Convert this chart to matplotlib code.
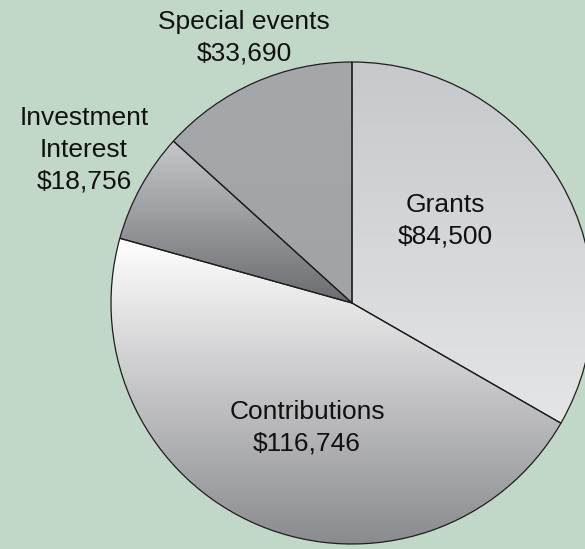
import matplotlib

matplotlib.use("Agg")

import matplotlib.pyplot as plt
import numpy as np
from matplotlib.colors import LinearSegmentedColormap

# data
categories = ["Grants", "Contributions", "Investment\nInterest", "Special events"]
amounts = [84500, 116746, 18756, 33690]

# vertical gradient per slice (top colour, bottom colour)
GRADIENTS = [
    ("#c7c8cb", "#e4e5e7"),
    ("#ffffff", "#8a8b8f"),
    ("#c6c7ca", "#6b6c70"),
    ("#a6a7ab", "#a2a3a7"),
]
# label centres in pixels (x from left, y from top)
LABEL_POS = [(445, 221), (307, 428), (84, 150), (244, 38)]

W, H = 585, 549
CX, CY, R = 352, 303, 241
BG = "#c1d7c7"

fig = plt.figure(figsize=(W / 100, H / 100), dpi=100, facecolor=BG)
ax = fig.add_axes([0, 0, 1, 1])
ax.set_facecolor(BG)
ax.axis("off")

wedges, _ = ax.pie(
    amounts,
    startangle=90,
    counterclock=False,
    radius=1.0,
    wedgeprops=dict(edgecolor="#1e1e1e", linewidth=0.9),
)

for w, (top, bottom) in zip(wedges, GRADIENTS):
    w.set_facecolor("none")
    w.set_zorder(3)
    bb = w.get_path().get_extents()
    cmap = LinearSegmentedColormap.from_list("g", [bottom, top])
    grad = np.linspace(0, 1, 256).reshape(-1, 1)
    im = ax.imshow(
        grad,
        cmap=cmap,
        origin="lower",
        extent=(bb.x0, bb.x1, bb.y0, bb.y1),
        aspect="auto",
        interpolation="bilinear",
        zorder=2,
    )
    im.set_clip_path(w)

for name, amt, (px, py) in zip(categories, amounts, LABEL_POS):
    ax.text(
        (px - CX) / R,
        (CY - py) / R,
        f"{name}\n${amt:,}",
        ha="center",
        va="center",
        fontsize=19,
        family=["Liberation Sans", "DejaVu Sans"],
        linespacing=1.42,
        color="#111111",
        zorder=5,
    )

ax.set_xlim(-CX / R, (W - CX) / R)
ax.set_ylim(-(H - CY) / R, CY / R)
ax.set_aspect("auto")

fig.savefig("out.png", dpi=100, facecolor=BG)
